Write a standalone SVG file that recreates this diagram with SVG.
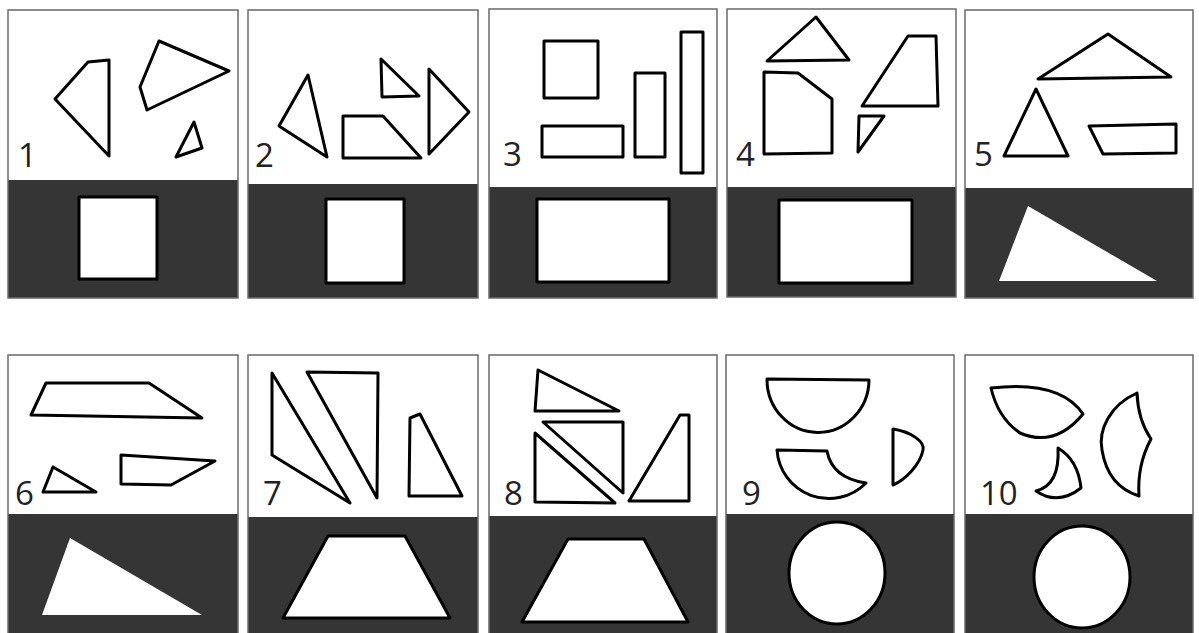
<svg xmlns="http://www.w3.org/2000/svg" width="1199" height="633" viewBox="0 0 1199 633">
<style>
.bg{fill:#fff}
.dark{fill:#353535}
.frame{fill:none;stroke:#6a6a6a;stroke-width:1.5}
.s{fill:none;stroke:#000;stroke-width:3;stroke-linejoin:round}
.w{fill:#fff;stroke:#000;stroke-width:3;stroke-linejoin:round}
.wf{fill:#fff}
.lbl{font-family:"Open Sans","Liberation Sans",sans-serif;font-size:33px;fill:#222}
</style>
<rect width="1199" height="633" fill="#fff"/>

<g id="panel1">
<rect class="dark" x="8" y="180" width="230" height="118"/>
<rect class="frame" x="8" y="10" width="230" height="288"/>
<polygon class="s" points="88,62 109,60 109,156 55,99"/>
<polygon class="s" points="159,41 229,71 147,110 140,87"/>
<polygon class="s" points="194,122 202,148 176,157"/>
<rect class="w" x="79" y="197" width="78" height="82"/>
<text class="lbl" x="18" y="167">1</text>
</g>

<g id="panel2">
<rect class="dark" x="248" y="184" width="230" height="114"/>
<rect class="frame" x="248" y="10" width="230" height="288"/>
<polygon class="s" points="308,75 327,157 279,126"/>
<polygon class="s" points="343,116 383,116 421,158 343,158"/>
<polygon class="s" points="381,59 419,96 382,97"/>
<polygon class="s" points="429,69 469,112 429,154"/>
<rect class="w" x="326" y="199" width="78" height="84"/>
<text class="lbl" x="255" y="167">2</text>
</g>

<g id="panel3">
<rect class="dark" x="489" y="187" width="228" height="111"/>
<rect class="frame" x="489" y="9" width="228" height="289"/>
<rect class="s" x="544" y="41" width="54" height="57"/>
<rect class="s" x="542" y="126" width="81" height="31"/>
<rect class="s" x="635" y="73" width="30" height="84"/>
<rect class="s" x="681" y="32" width="22" height="141"/>
<rect class="w" x="537" y="199" width="132" height="83"/>
<text class="lbl" x="503" y="166">3</text>
</g>

<g id="panel4">
<rect class="dark" x="727" y="187" width="229" height="110"/>
<rect class="frame" x="727" y="9" width="229" height="288"/>
<polygon class="s" points="816,17 849,60 767,61"/>
<polygon class="s" points="764,72 798,73 832,99 832,153 764,154"/>
<polygon class="s" points="908,36 936,36 938,106 862,106"/>
<polygon class="s" points="859,116 884,116 858,152"/>
<rect class="w" x="779" y="200" width="133" height="83"/>
<text class="lbl" x="736" y="166">4</text>
</g>

<g id="panel5">
<rect class="dark" x="965" y="188" width="228" height="110"/>
<rect class="frame" x="965" y="10" width="228" height="288"/>
<polygon class="s" points="1108,34 1171,77 1038,79"/>
<polygon class="s" points="1036,89 1068,156 1004,156"/>
<polygon class="s" points="1089,126 1176,124 1176,153 1103,154"/>
<polygon class="wf" points="1028,206 1157,281 999,281"/>
<text class="lbl" x="974" y="166">5</text>
</g>

<g id="panel6">
<rect class="dark" x="8" y="514" width="230" height="125"/>
<rect class="frame" x="8" y="355" width="230" height="284"/>
<polygon class="s" points="46,383 149,383 202,418 31,415"/>
<polygon class="s" points="53,467 96,492 43,492"/>
<polygon class="s" points="121,455 215,461 171,485 121,484"/>
<polygon class="wf" points="70,538 202,615 42,615"/>
<text class="lbl" x="15" y="505">6</text>
</g>

<g id="panel7">
<rect class="dark" x="248" y="517" width="230" height="122"/>
<rect class="frame" x="248" y="355" width="230" height="284"/>
<polygon class="s" points="272,373 350,503 272,455"/>
<polygon class="s" points="307,372 378,373 377,498"/>
<polygon class="s" points="420,414 462,496 409,496 410,418"/>
<polygon class="w" points="328,536 405,536 450,618 283,618"/>
<text class="lbl" x="263" y="505">7</text>
</g>

<g id="panel8">
<rect class="dark" x="489" y="516" width="228" height="123"/>
<rect class="frame" x="489" y="355" width="228" height="284"/>
<polygon class="s" points="538,370 619,411 535,411"/>
<polygon class="s" points="543,422 623,422 623,493"/>
<polygon class="s" points="535,433 615,503 535,502"/>
<polygon class="s" points="680,415 689,415 689,501 629,501"/>
<polygon class="w" points="568,539 644,539 688,622 522,622"/>
<text class="lbl" x="504" y="505">8</text>
</g>

<g id="panel9">
<rect class="dark" x="726" y="514" width="228" height="125"/>
<rect class="frame" x="726" y="355" width="228" height="284"/>
<path class="s" d="M767,379 L869,380 A51,53 0 0 1 767,379 Z"/>
<path class="s" d="M777,450 L827,451 Q832,478 866,483 A52,52 0 0 1 777,450 Z"/>
<path class="s" d="M893,429 C912,432 925,442 923,450 C920,465 905,480 893,485 Z"/>
<ellipse class="w" cx="837" cy="573" rx="48" ry="51"/>
<text class="lbl" x="742" y="505">9</text>
</g>

<g id="panel10">
<rect class="dark" x="965" y="514" width="228" height="125"/>
<rect class="frame" x="965" y="355" width="228" height="284"/>
<path class="s" d="M991,388 Q1060,380 1083,414 Q1055,448 1020,433 Q998,418 991,388 Z"/>
<path class="s" d="M1137,393 C1110,405 1098,430 1102,450 C1106,475 1120,490 1139,496 Q1137,465 1151,439 Q1138,420 1137,393 Z"/>
<path class="s" d="M1058,448 Q1078,460 1081,488 Q1058,506 1036,491 Q1060,485 1058,448 Z"/>
<ellipse class="w" cx="1082" cy="577" rx="48" ry="51"/>
<text class="lbl" x="980" y="505">10</text>
</g>
</svg>
